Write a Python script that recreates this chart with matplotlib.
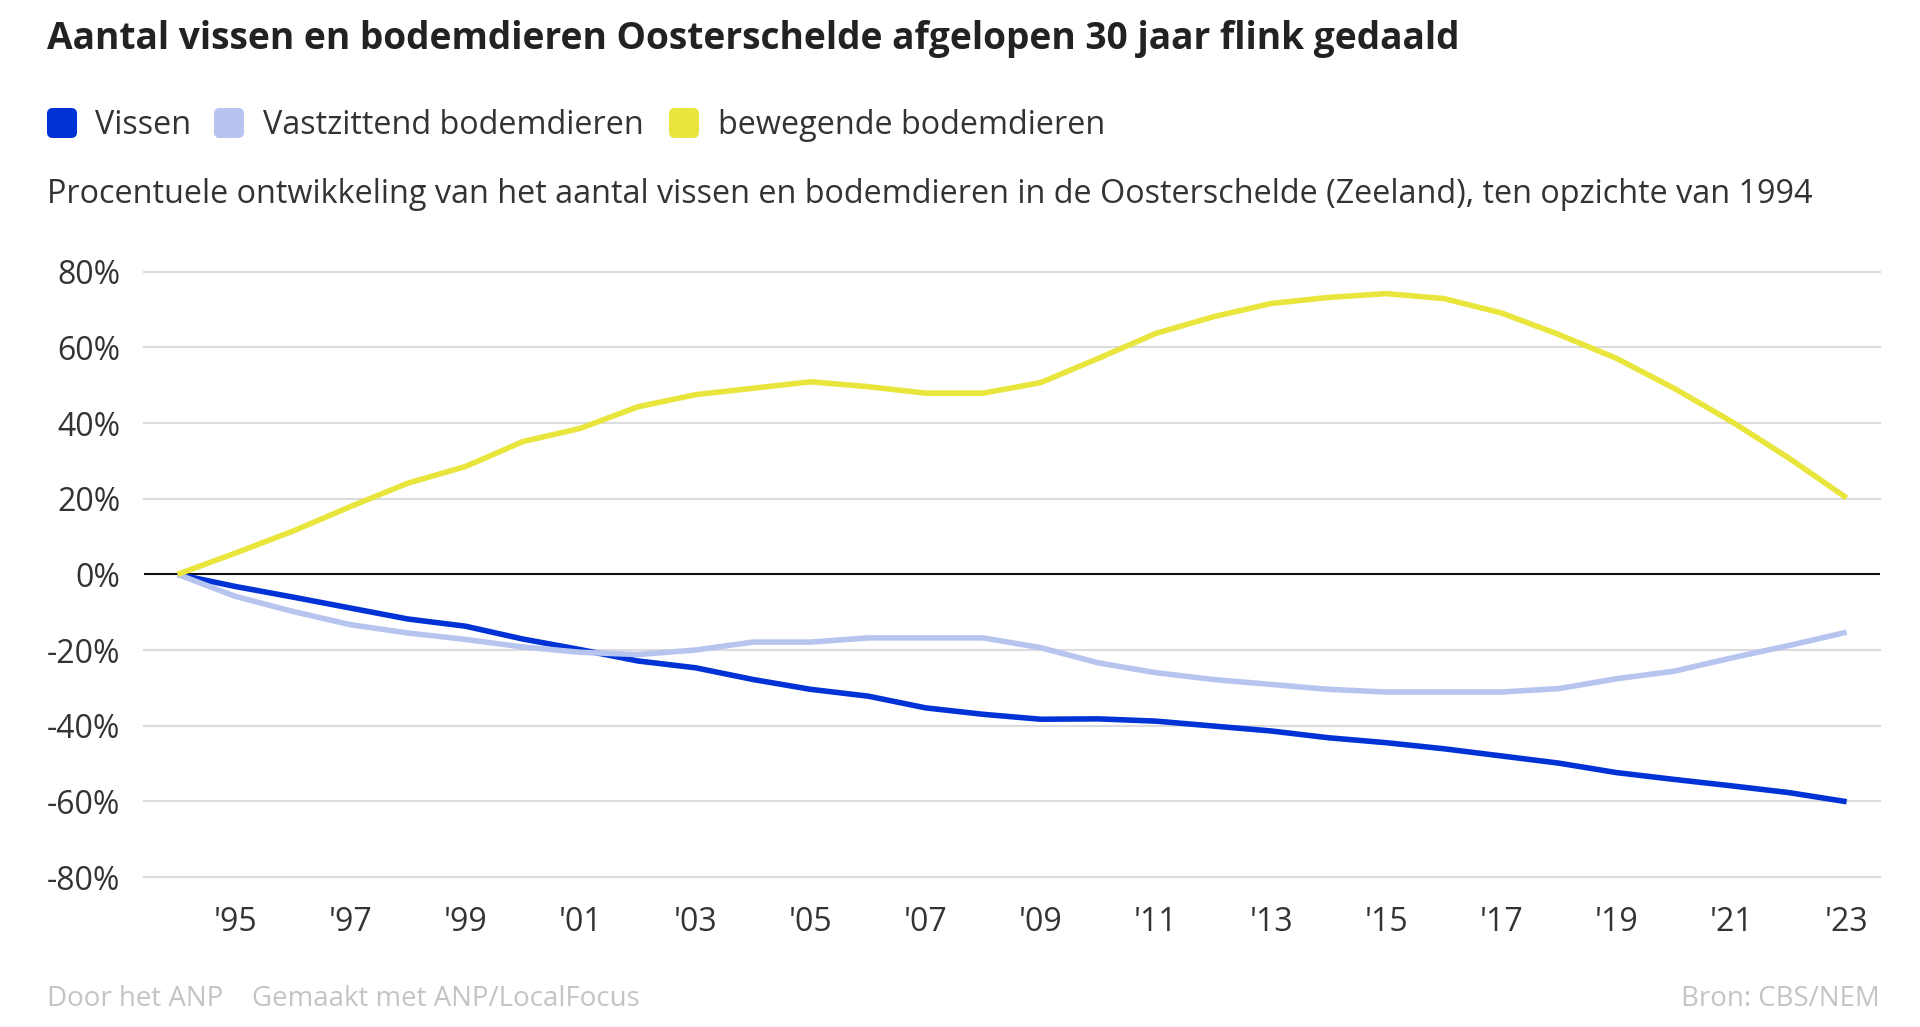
import numpy as np
import matplotlib
matplotlib.use("Agg")
import matplotlib.pyplot as plt
from matplotlib.patches import FancyBboxPatch

plt.rcParams['font.family'] = ['Open Sans', 'DejaVu Sans']

# data (percent change vs 1994)
years = list(range(1994, 2024))
vissen = [0, -3.2, -6.0, -8.9, -11.8, -13.7, -17.1, -19.9, -22.9, -24.7,
          -27.8, -30.4, -32.2, -35.3, -37.0, -38.3, -38.2, -38.8, -40.1, -41.4,
          -43.2, -44.5, -46.1, -48.0, -49.9, -52.4, -54.2, -55.9, -57.7, -60.1]
vastzittend = [0, -5.8, -9.8, -13.3, -15.5, -17.2, -19.2, -20.6, -21.2, -20.0,
               -17.9, -17.9, -16.8, -16.8, -16.8, -19.4, -23.4, -26.0, -27.8, -29.1,
               -30.4, -31.1, -31.1, -31.1, -30.2, -27.6, -25.6, -22.1, -18.8, -15.3]
bewegend = [0, 5.6, 11.4, 17.9, 24.1, 28.5, 35.1, 38.6, 44.3, 47.5,
            49.2, 50.9, 49.6, 47.9, 47.9, 50.7, 57.1, 63.7, 68.1, 71.6,
            73.2, 74.2, 72.9, 69.1, 63.4, 57.1, 49.2, 40.4, 30.7, 20.2]

series_names = ["Vissen", "Vastzittend bodemdieren", "bewegende bodemdieren"]
colors = ["#0032d6", "#b7c4ef", "#e8e63c"]
yticks = [80, 60, 40, 20, 0, -20, -40, -60, -80]
xticks = list(range(1995, 2024, 2))
xlabels = ["'%02d" % (y % 100) for y in xticks]

W, H = 1920, 1027
fig = plt.figure(figsize=(W / 100, H / 100), dpi=100)
fig.patch.set_facecolor("white")

def fx(px):
    return px / W

def fy(py):
    return 1 - py / H

# plot area
ax = fig.add_axes([fx(144), fy(877), fx(1880) - fx(144), fy(271.7) - fy(877)])
ax.set_xlim(1993.416, 2023.58)
ax.set_ylim(-80, 80)
for s in ax.spines.values():
    s.set_visible(False)
for t in yticks:
    if t == 0:
        continue
    ax.axhline(t, color="#dcdcdc", lw=1.5, zorder=1, clip_on=False)
ax.axhline(0, color="#111111", lw=1.5, zorder=2)

for vals, c in zip([vissen, vastzittend, bewegend], colors):
    ax.plot(years, vals, color=c, lw=4.0, solid_joinstyle="round",
            solid_capstyle="butt", zorder=3)

ax.set_yticks(yticks)
ax.set_yticklabels(["%d%%" % t for t in yticks])
ax.set_xticks(xticks)
ax.set_xticklabels(xlabels)
ax.tick_params(axis="both", length=0, labelsize=23, colors="#333333")
ax.tick_params(axis="y", pad=17)
ax.tick_params(axis="x", pad=21)

# title, legend, subtitle
fig.text(fx(47), fy(39.5), "Aantal vissen en bodemdieren Oosterschelde afgelopen 30 jaar flink gedaald",
         fontsize=26.7, fontweight="bold", color="#222222", va="center", ha="left")

leg_x = [47, 214, 669]
lab_x = [95, 263, 718]
for name, c, bx, lx in zip(series_names, colors, leg_x, lab_x):
    fig.patches.append(FancyBboxPatch((fx(bx), fy(138)), fx(30), fy(108) - fy(138),
                                      boxstyle="round,pad=0,rounding_size=0.003",
                                      transform=fig.transFigure, facecolor=c,
                                      edgecolor="none", mutation_aspect=W / H))
    fig.text(fx(lx), fy(125.5), name, fontsize=23.3, color="#333333", va="center", ha="left")

fig.text(fx(47), fy(194.5),
         "Procentuele ontwikkeling van het aantal vissen en bodemdieren in de Oosterschelde (Zeeland), ten opzichte van 1994",
         fontsize=23.3, color="#333333", va="center", ha="left")

# footer
fig.text(fx(47), fy(999.5), "Door het ANP", fontsize=19.9, color="#c4c4c4", va="center", ha="left")
fig.text(fx(252), fy(999.5), "Gemaakt met ANP/LocalFocus", fontsize=19.9, color="#c4c4c4", va="center", ha="left")
fig.text(fx(1880), fy(999.5), "Bron: CBS/NEM", fontsize=19.9, color="#c4c4c4", va="center", ha="right")

fig.savefig("out.png", dpi=100)
